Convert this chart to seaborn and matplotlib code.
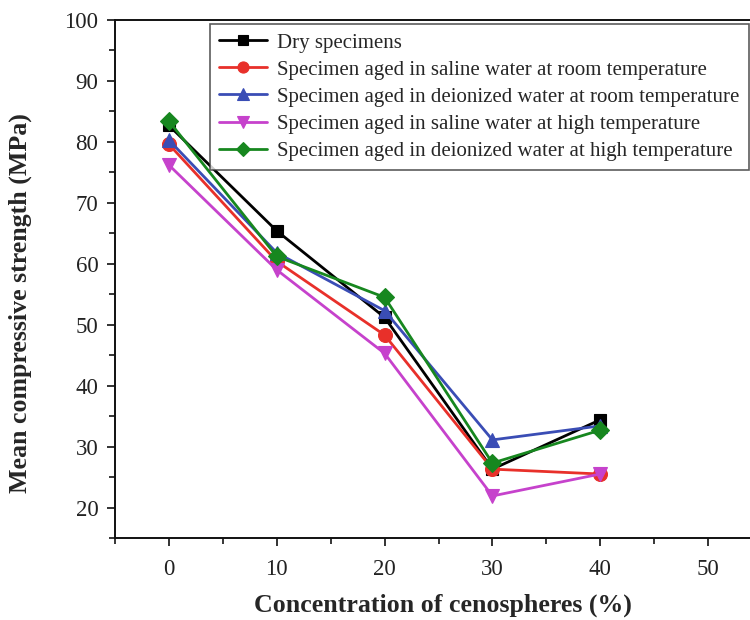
import matplotlib
matplotlib.use("Agg")
import matplotlib.pyplot as plt
from matplotlib.ticker import MultipleLocator
import seaborn as sns
import pandas as pd

concentration = [0, 10, 20, 30, 40]
dry = [82.7, 65.4, 51.2, 26.3, 34.4]
saline_room = [79.6, 60.4, 48.3, 26.3, 25.5]
deion_room = [80.3, 61.8, 52.3, 31.1, 33.4]
saline_high = [76.2, 59.0, 45.3, 21.9, 25.5]
deion_high = [83.4, 61.2, 54.5, 27.3, 32.7]

series_names = [
    "Dry specimens",
    "Specimen aged in saline water at room temperature",
    "Specimen aged in deionized water at room temperature",
    "Specimen aged in saline water at high temperature",
    "Specimen aged in deionized water at high temperature",
]
series_values = [dry, saline_room, deion_room, saline_high, deion_high]
colors = ["#000000", "#e8302a", "#3a4db5", "#c642cc", "#17871f"]
markers = ["s", "o", "^", "v", "D"]
marker_sizes = [9, 10, 10, 10, 9]

rows = []
for name, vals in zip(series_names, series_values):
    for c, v in zip(concentration, vals):
        rows.append({"Concentration": c, "Strength": v, "Series": name})
df = pd.DataFrame(rows)

sns.set_style("ticks")
plt.rcParams["font.family"] = ["Liberation Serif", "DejaVu Serif"]

fig = plt.figure(figsize=(7.5, 6.2), dpi=100)
ax = fig.add_axes([115 / 750, 1 - 538 / 620, 647 / 750, 518 / 620])

for name, col, mk, ms in zip(series_names, colors, markers, marker_sizes):
    sub = df[df["Series"] == name]
    sns.lineplot(data=sub, x="Concentration", y="Strength", ax=ax, color=col,
                 marker=mk, markersize=ms, markeredgewidth=0.8,
                 markeredgecolor=col, linewidth=2, label=name, sort=False)

ax.set_xlim(-5, 55)
ax.set_ylim(15, 100)
ax.xaxis.set_major_locator(MultipleLocator(10))
ax.xaxis.set_minor_locator(MultipleLocator(5))
ax.yaxis.set_major_locator(MultipleLocator(10))
ax.yaxis.set_minor_locator(MultipleLocator(5))
ax.set_yticks(range(20, 101, 10))
ax.tick_params(axis="both", which="major", direction="out", length=6, width=1.3,
               labelsize=16.5, colors="#222222")
ax.tick_params(axis="x", which="major", pad=9)
ax.tick_params(axis="y", which="major", pad=6)
ax.tick_params(axis="both", which="minor", direction="out", length=4, width=1.3)
for s in ax.spines.values():
    s.set_linewidth(1.4)
    s.set_color("#111111")

ax.set_xlabel("Concentration of cenospheres (%)", fontsize=18.6, fontweight="bold",
              va="center")
ax.set_ylabel("Mean compressive strength (MPa)", fontsize=18.6, fontweight="bold",
              va="center")
ax.xaxis.set_label_coords((443 - 115) / 647, -(605 - 538) / 518)
ax.yaxis.set_label_coords(-(115 - 20) / 647, (538 - 303) / 518)

leg = ax.legend(loc="upper left", bbox_to_anchor=(0.147, 0.993), fontsize=15,
                frameon=True, fancybox=False, edgecolor="#333333",
                handlelength=2.3, handletextpad=0.45, labelspacing=0.36,
                borderpad=0.45, borderaxespad=0, markerscale=0.8)
leg.get_frame().set_linewidth(1.2)

fig.savefig("out.png", dpi=100)
